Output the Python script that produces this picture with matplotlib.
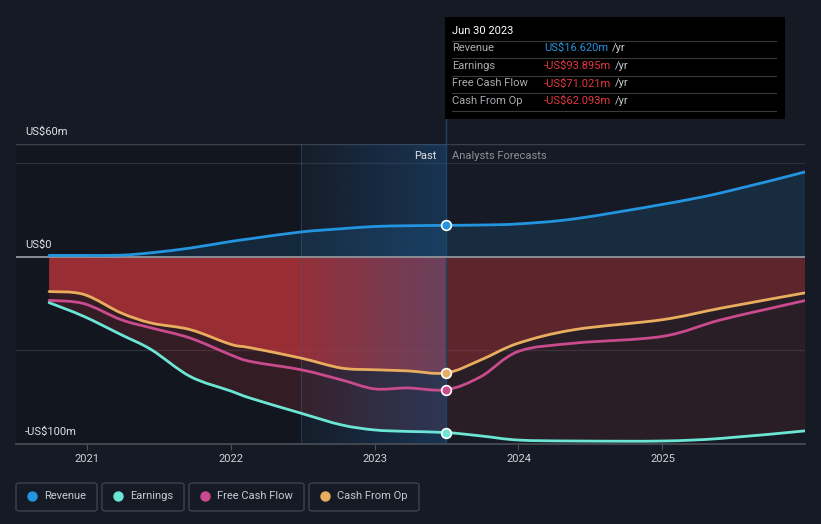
import numpy as np
import matplotlib
matplotlib.use('Agg')
import matplotlib.pyplot as plt
from matplotlib.patches import Rectangle, FancyBboxPatch, PathPatch
from matplotlib.lines import Line2D
from matplotlib.path import Path

plt.rcParams['font.family'] = ['Roboto', 'DejaVu Sans']

# data (US$m, decimal years)
years = [2020.74, 2020.98, 2021.24, 2021.45, 2021.72, 2022.0, 2022.14, 2022.49,
         2022.77, 2023.0, 2023.23, 2023.5, 2023.74, 2024.0, 2024.39, 2025.0,
         2025.41, 2025.99]
revenue = [0.6, 0.6, 0.7, 2.0, 4.5, 8.0, 9.5, 13.1, 14.8, 16.0, 16.4, 16.62,
           16.8, 17.4, 20.1, 27.8, 34.0, 45.1]
earnings = [-24.6, -31.9, -41.7, -49.7, -64.0, -71.7, -75.6, -83.6, -89.8, -92.5,
            -93.3, -93.895, -95.7, -97.9, -98.4, -98.4, -97.0, -93.0]
free_cash_flow = [-23.4, -25.1, -33.7, -38.1, -43.5, -52.4, -56.0, -60.4, -65.8,
                  -70.6, -70.1, -71.021, -64.0, -50.6, -46.2, -42.6, -33.7, -23.5]
cash_from_op = [-18.7, -20.2, -30.1, -35.5, -39.0, -46.8, -48.7, -54.2, -59.5,
                -60.4, -61.0, -62.093, -55.1, -46.2, -39.0, -33.7, -27.5, -19.4]
tick_years = [2021, 2022, 2023, 2024, 2025]
past_end = 2023.5
highlight_start = 2022.49

BG = '#151a24'
c_rev, c_earn, c_fcf, c_cfo = '#2394df', '#6ce5d4', '#c94b8e', '#e9ad5f'
RED = '#c0353a'


def curve(xs, ys):
    # smooth bezier path through the points (Catmull-Rom style handles)
    p = np.column_stack([xs, ys])
    n = len(p)
    verts = [p[0]]
    codes = [Path.MOVETO]
    for i in range(n - 1):
        p0 = p[max(i - 1, 0)]
        p1 = p[i]
        p2 = p[i + 1]
        p3 = p[min(i + 2, n - 1)]
        verts += [p1 + (p2 - p0) / 6, p2 - (p3 - p1) / 6, p2]
        codes += [Path.CURVE4] * 3
    return verts, codes


def area(xs, ys):
    verts, codes = curve(xs, ys)
    verts = verts + [(xs[-1], 0), (xs[0], 0), (xs[0], 0)]
    codes = codes + [Path.LINETO, Path.LINETO, Path.CLOSEPOLY]
    return Path(verts, codes)


W, H = 821, 524
fig = plt.figure(figsize=(W / 100, H / 100), dpi=100, facecolor=BG)
ax = fig.add_axes([16 / W, 1 - 444 / H, (805 - 16) / W, 300 / H])
ax.set_facecolor(BG)
ax.set_xlim(2020.51, 2025.99)
ax.set_ylim(-100, 60)

x = np.array(years)
rev = np.array(revenue)
earn = np.array(earnings)
fcf = np.array(free_cash_flow)
cfo = np.array(cash_from_op)
past = x <= past_end
fut = x >= past_end

# darker past background
ax.axvspan(2020.51, highlight_start, color='black', alpha=0.12, lw=0, zorder=0)

# fills
ax.add_patch(PathPatch(area(x, rev), facecolor=c_rev, alpha=0.15, lw=0, zorder=1))
ax.add_patch(PathPatch(area(x[past], earn[past]), facecolor=RED, alpha=0.2, lw=0, zorder=1))
ax.add_patch(PathPatch(area(x[past], cfo[past]), facecolor=RED, alpha=0.72, lw=0, zorder=1))
ax.add_patch(PathPatch(area(x[fut], earn[fut]), facecolor=RED, alpha=0.12, lw=0, zorder=1))
ax.add_patch(PathPatch(area(x[fut], cfo[fut]), facecolor=RED, alpha=0.35, lw=0, zorder=1))

# highlight gradient band
grad = np.zeros((2, 256, 4))
grad[..., 0] = 30 / 255
grad[..., 1] = 95 / 255
grad[..., 2] = 160 / 255
grad[..., 3] = np.linspace(0.05, 0.38, 256)
ax.imshow(grad, extent=[highlight_start, past_end, -100, 60], aspect='auto',
          zorder=2, interpolation='bilinear')
ax.axvline(highlight_start, color='#3a5f85', alpha=0.45, lw=0.8, zorder=2)

# grid
for v in [60, 50, -50]:
    ax.axhline(v, color='#2c313c', lw=0.9, zorder=0.5)
ax.axhline(60, color='#3a3f4a', lw=1, zorder=0.5)
ax.axhline(0, color='#8a8d94', lw=1.4, zorder=3)

# lines
for series, col in [(cfo, c_cfo), (fcf, c_fcf), (earn, c_earn), (rev, c_rev)]:
    v, c = curve(x, series)
    ax.add_patch(PathPatch(Path(v, c), facecolor='none', edgecolor=col, lw=2,
                           zorder=4, capstyle='round'))
    ax.plot([past_end], series[past][-1:], 'o', color=col, ms=7,
            mec='white', mew=1.2, zorder=6)

ax.axvline(past_end, ymin=0, ymax=(444 - 17) / 300, color='#1e4464', lw=1,
           zorder=2, clip_on=False)

for s in ax.spines.values():
    s.set_visible(False)
ax.axhline(-100, color='#4a4f58', lw=1.2, zorder=3, clip_on=False)
ax.set_yticks([])
ax.set_xticks(tick_years)
ax.set_xticklabels([str(t) for t in tick_years], color='#d0d2d6', fontsize=8)
ax.tick_params(axis='x', length=4, color='#4a4f58', pad=3)


def ftext(px, py, s, **kw):
    fig.text(px / W, 1 - py / H, s, va='center', **kw)


ftext(25, 132, 'US$60m', color='#e0e2e6', fontsize=8)
ftext(25, 245, 'US$0', color='#e0e2e6', fontsize=8)
ftext(25, 432, '-US$100m', color='#e0e2e6', fontsize=8)
ftext(436, 156, 'Past', color='#e0e2e6', fontsize=8, ha='right')
ftext(452, 156, 'Analysts Forecasts', color='#8c9098', fontsize=8)

# tooltip
fig.patches.append(Rectangle((445 / W, 1 - 119 / H), 340 / W, 102 / H,
                             transform=fig.transFigure, facecolor='black',
                             edgecolor='none', zorder=10))
ftext(452, 31, 'Jun 30 2023', color='white', fontsize=8, zorder=11)
rows = [('Revenue', 'US$16.620m', c_rev), ('Earnings', '-US$93.895m', '#e5383e'),
        ('Free Cash Flow', '-US$71.021m', '#e5383e'),
        ('Cash From Op', '-US$62.093m', '#e5383e')]
for i, (lab, val, col) in enumerate(rows):
    yy = 48 + i * 17.7
    ftext(452, yy, lab, color='#a8abb0', fontsize=8, zorder=11)
    t = fig.text(544 / W, 1 - yy / H, val, color=col, fontsize=8, va='center', zorder=11)
    fig.canvas.draw()
    bb = t.get_window_extent()
    fig.text((bb.x1 + 4) / W, 1 - yy / H, '/yr', color='#c8cacf', fontsize=8,
             va='center', zorder=11)
for yy in [41, 58, 76, 93, 111]:
    fig.add_artist(Line2D([452 / W, 776 / W], [1 - yy / H, 1 - yy / H],
                          color='#3a3a3a', lw=0.8, zorder=11))

# legend
legend_items = [('Revenue', c_rev, 16, 97), ('Earnings', c_earn, 102, 184),
                ('Free Cash Flow', c_fcf, 189, 304), ('Cash From Op', c_cfo, 309, 419)]
for lab, col, x0, x1 in legend_items:
    fig.patches.append(FancyBboxPatch((x0 / W, 1 - 511 / H), (x1 - x0) / W, 28 / H,
                                      boxstyle='round,pad=0,rounding_size=0.004',
                                      transform=fig.transFigure, facecolor='none',
                                      edgecolor='#3c414b', lw=1))
    fig.add_artist(Line2D([(x0 + 16) / W], [1 - 496 / H], marker='o', ms=6.5,
                          color=col, lw=0))
    ftext(x0 + 28, 496, lab, color='#c8cacf', fontsize=8)

fig.savefig('out.png', dpi=100, facecolor=BG)
